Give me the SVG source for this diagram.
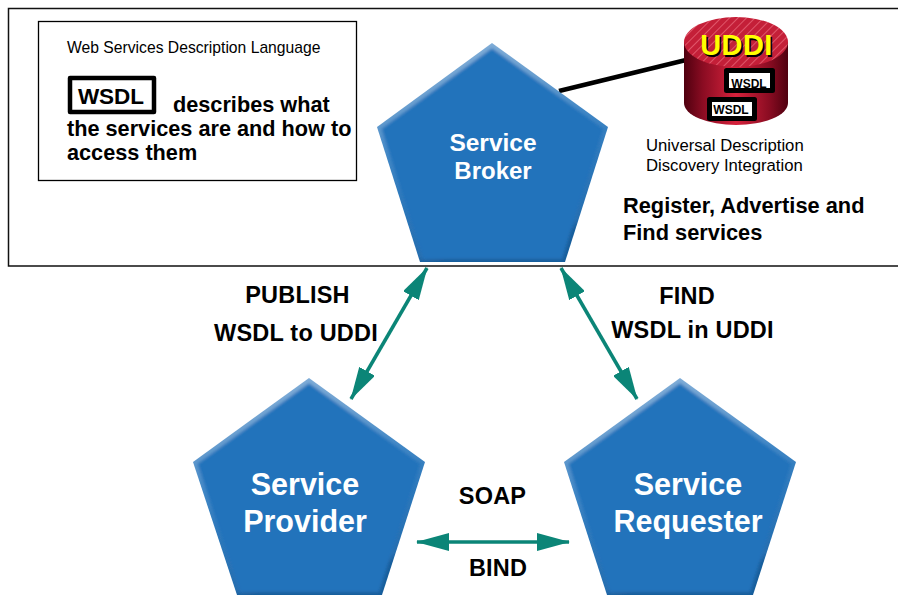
<svg xmlns="http://www.w3.org/2000/svg" width="898" height="595" viewBox="0 0 898 595">
<defs>
<linearGradient id="cyl" x1="0" x2="1" y1="0" y2="0"><stop offset="0" stop-color="#4f000f"/><stop offset=".18" stop-color="#8a0c22"/><stop offset=".5" stop-color="#d6223c"/><stop offset=".82" stop-color="#8a0c22"/><stop offset="1" stop-color="#4f000f"/></linearGradient>
<linearGradient id="edge" x1="0" x2=".25" y1="0" y2="1"><stop offset="0" stop-color="#8db5dc"/><stop offset=".3" stop-color="#6a9fd0"/><stop offset=".5" stop-color="#4388c6"/><stop offset=".7" stop-color="#3079bb"/><stop offset=".96" stop-color="#2a6fb0"/><stop offset="1" stop-color="#1f5f9c"/></linearGradient>
<pattern id="hatch" width="6" height="6" patternUnits="userSpaceOnUse" patternTransform="rotate(-45)"><rect width="6" height="6" fill="#c41f38"/><rect width="6" height="1" fill="#e0566a"/></pattern>
<filter id="bevel" x="-5%" y="-5%" width="110%" height="110%"><feMorphology in="SourceAlpha" operator="erode" radius="3"/><feGaussianBlur stdDeviation="1.800" result="a"/><feFlood flood-color="#2473bb"/><feComposite in2="a" operator="in" result="c"/><feMerge><feMergeNode in="SourceGraphic"/><feMergeNode in="c"/></feMerge></filter>
<marker id="ah" viewBox="0 0 33 18" refX="32" refY="9" markerUnits="userSpaceOnUse" markerWidth="33" markerHeight="18" orient="auto-start-reverse"><path d="M0 0L33 9L0 18Z" fill="#0b8577"/></marker>
</defs>
<style>
text{font-family:"Liberation Sans",Arial,sans-serif;fill:#000}
.b{font-weight:bold}
.lbl{font-weight:bold;font-size:23.500px;text-anchor:middle;letter-spacing:.2px}
.pent{fill:url(#edge);filter:url(#bevel)}
.w{fill:#fff;font-weight:bold;text-anchor:middle}
.arr{stroke:#0b8577;stroke-width:3.500;fill:none;marker-start:url(#ah);marker-end:url(#ah)}
.tag{fill:#fff;stroke:#000;stroke-width:5;stroke-linejoin:round}
</style>
<rect width="898" height="595" fill="#fff"/>
<path d="M898 8.500H8.500V266H898" fill="none" stroke="#111" stroke-width="1.500"/>
<g id="wsdl-note">
<rect x="38.500" y="21.500" width="318" height="159" fill="#fff" stroke="#000" stroke-width="1.300"/>
<text x="67" y="53" font-size="15.700">Web Services Description Language</text>
<rect x="70" y="78" width="84" height="34" fill="#fff" stroke="#000" stroke-width="4.500" stroke-linejoin="round"/>
<text x="111" y="104" font-size="22.500" class="b" text-anchor="middle">WSDL</text>
<text x="173" y="112" font-size="21.700" class="b">describes what</text>
<text x="67" y="136" font-size="21.700" class="b">the services are and how to</text>
<text x="67" y="160" font-size="21.700" class="b">access them</text>
</g>
<g id="connectors">
<path d="M559 91L686 60" stroke="#000" stroke-width="4.500" fill="none"/>
<path class="arr" d="M427 268L351 399"/>
<path class="arr" d="M561 268L637 399"/>
<path class="arr" d="M417 542H569"/>
</g>
<g id="service-broker">
<polygon class="pent" points="492,43 608,127 565,262 420,262 377,127"/>
<text class="w" x="493" y="151" font-size="24.500">Service</text>
<text class="w" x="493" y="179" font-size="24">Broker</text>
</g>
<g id="uddi">
<path d="M684 42V103A52 22 0 0 0 788 103V42Z" fill="url(#cyl)"/>
<ellipse cx="736" cy="42" rx="52" ry="25" fill="url(#hatch)"/>
<text x="738" y="56.500" font-size="29" class="b" text-anchor="middle" style="fill:#000" letter-spacing=".4">UDDI</text>
<text x="736.500" y="55" font-size="29" class="b" text-anchor="middle" style="fill:#ff0" letter-spacing=".4">UDDI</text>
<rect class="tag" x="726.500" y="70.500" width="46" height="20"/>
<text x="749" y="88" font-size="12" class="b" text-anchor="middle">WSDL</text>
<rect class="tag" x="709.500" y="99.500" width="45" height="19"/>
<text x="731" y="114" font-size="12" class="b" text-anchor="middle">WSDL</text>
</g>
<text x="646" y="151" font-size="16.700">Universal Description</text>
<text x="646" y="171" font-size="16.700">Discovery Integration</text>
<text x="623" y="213" font-size="21.800" class="b">Register, Advertise and</text>
<text x="623" y="240" font-size="21.800" class="b">Find services</text>
<text class="lbl" x="297.500" y="303">PUBLISH</text>
<text class="lbl" x="296" y="341">WSDL to UDDI</text>
<text class="lbl" x="687" y="304">FIND</text>
<text class="lbl" x="692.500" y="338">WSDL in UDDI</text>
<g id="service-provider">
<polygon class="pent" points="309,378 425,462 382,595 237,595 193,462"/>
<text class="w" x="305" y="495" font-size="30.500">Service</text>
<text class="w" x="305" y="532" font-size="30.500">Provider</text>
</g>
<g id="service-requester">
<polygon class="pent" points="680,378 796,462 753,595 607,595 564,462"/>
<text class="w" x="688" y="495" font-size="30.500">Service</text>
<text class="w" x="688" y="532" font-size="30.500">Requester</text>
</g>
<text class="lbl" x="492.500" y="504">SOAP</text>
<text class="lbl" x="498" y="576">BIND</text>
</svg>
